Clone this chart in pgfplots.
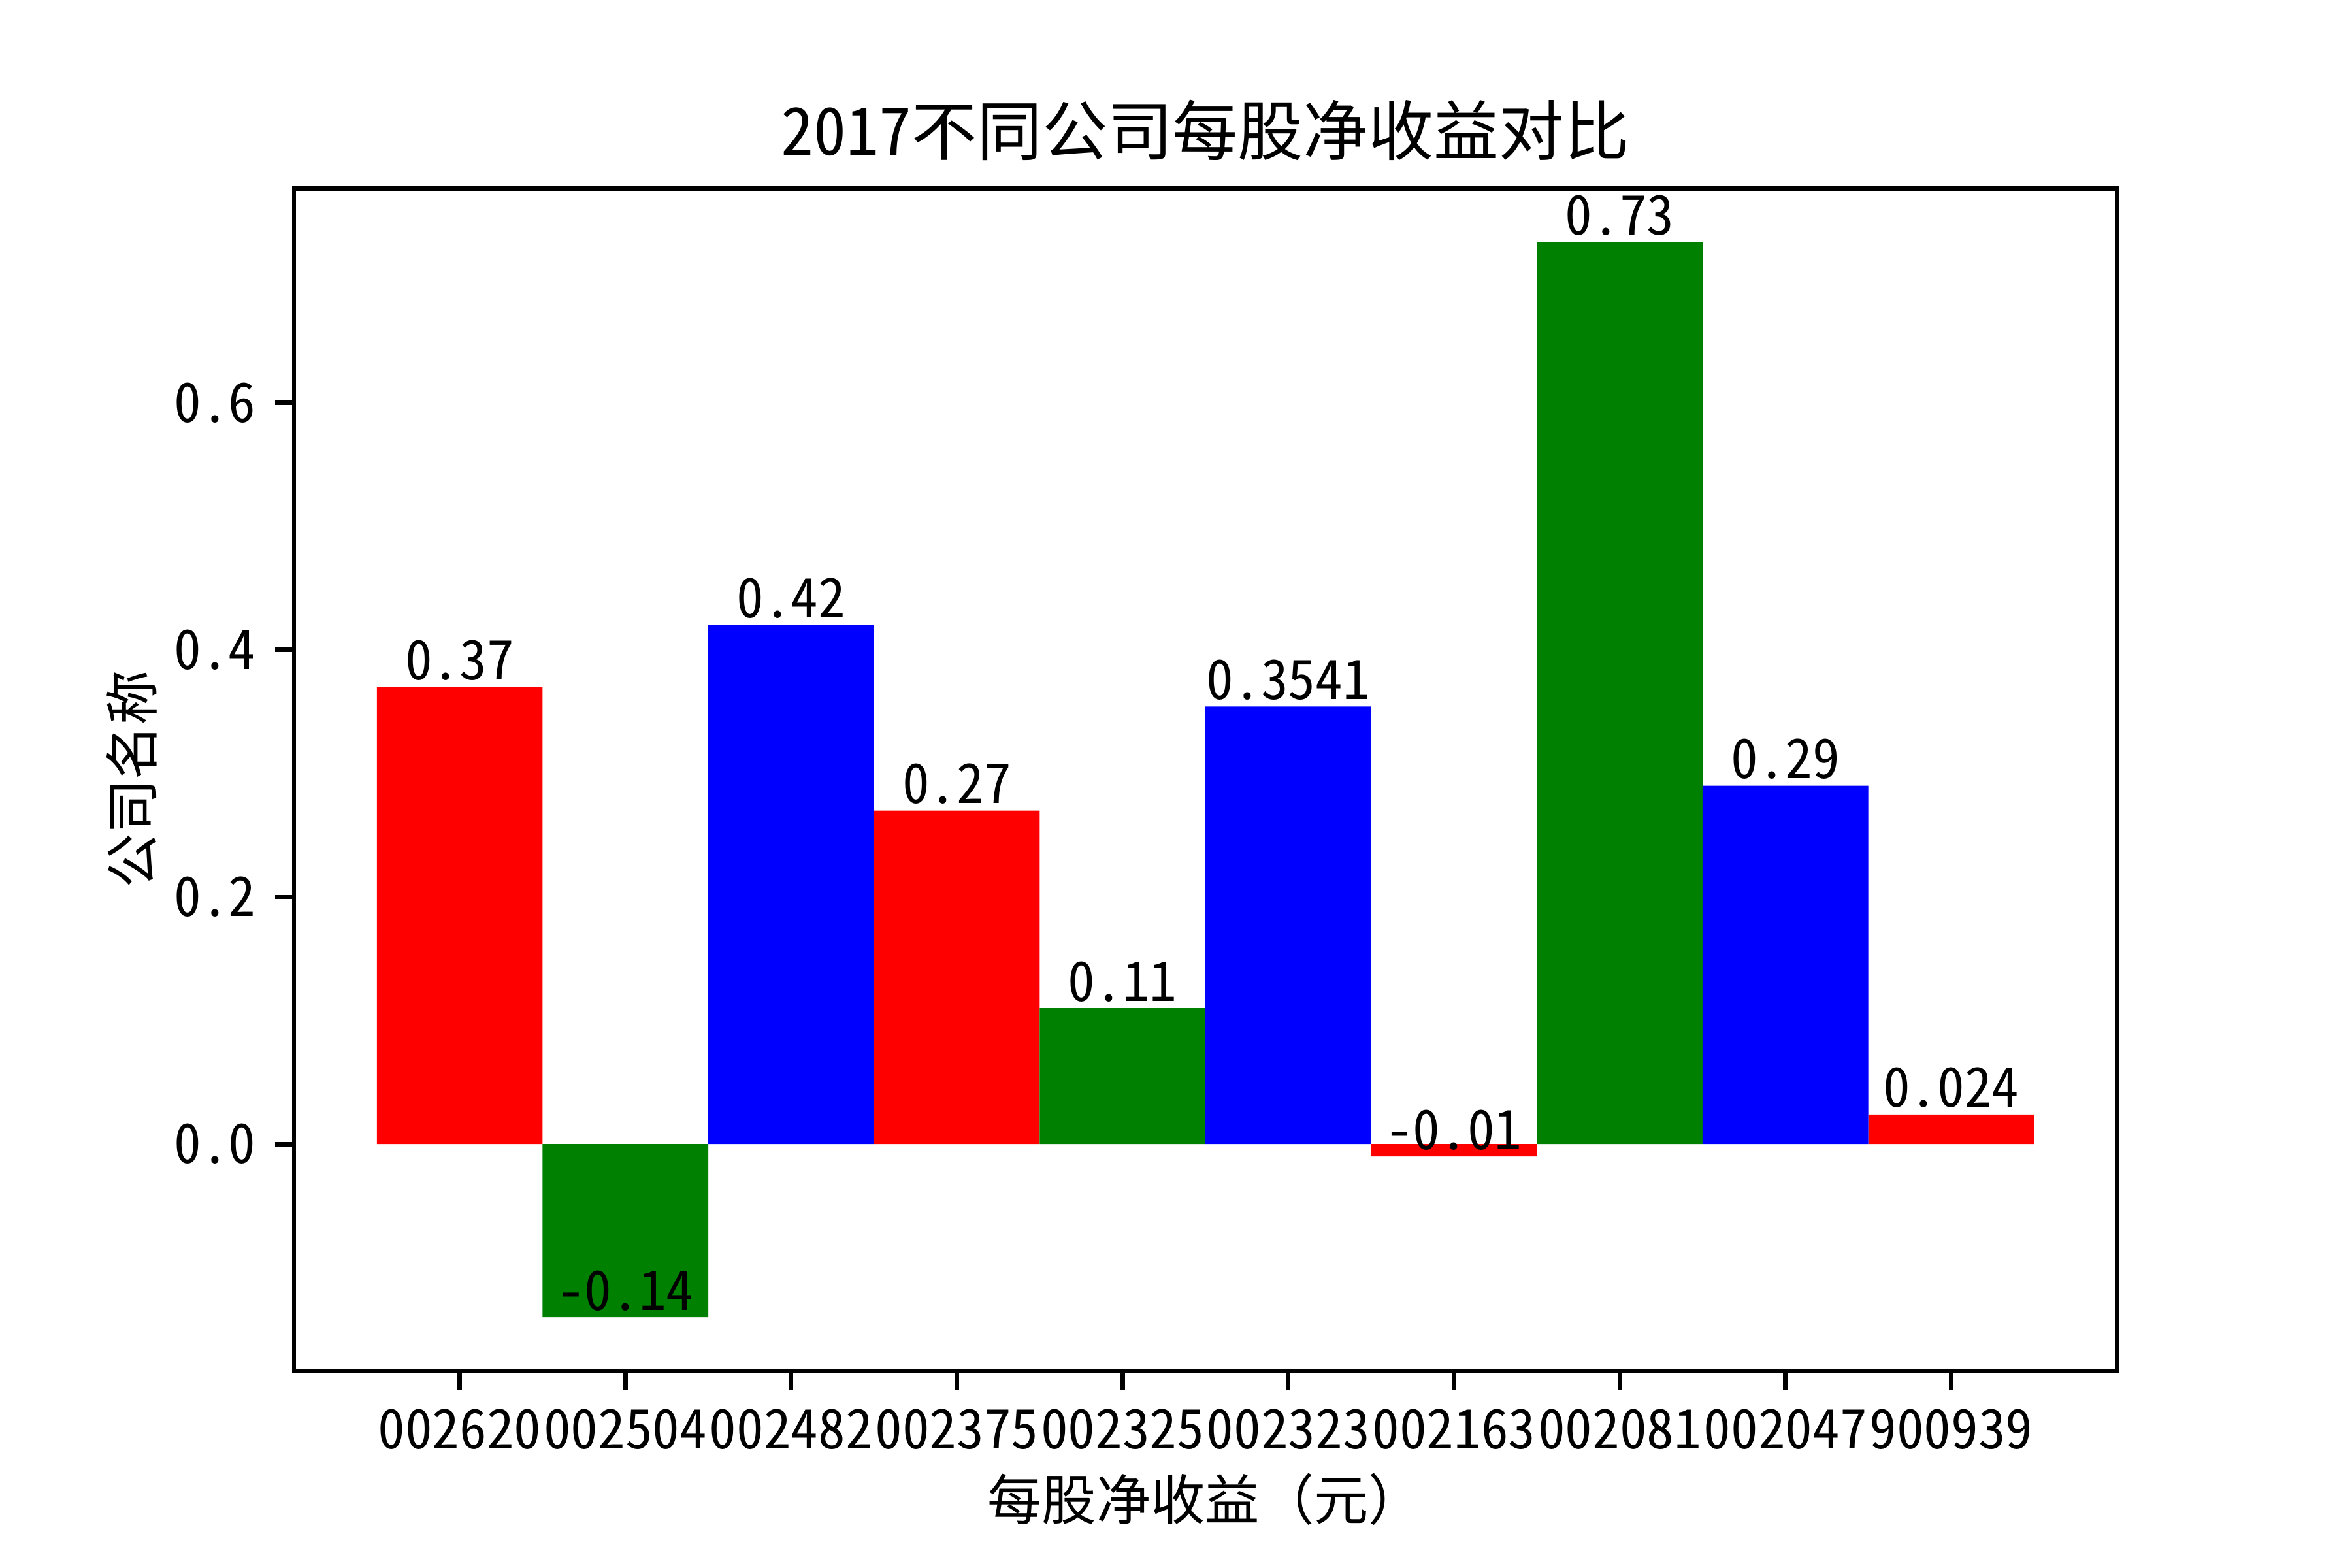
\documentclass[border=0pt]{standalone}
\usepackage{fontspec}
\setmainfont{Noto Sans CJK SC}[RawFeature=+hwid]
\newfontfamily\cjkfull{Noto Sans CJK SC}
\usepackage{pgfplots}
\pgfplotsset{compat=1.18}
\definecolor{mplgreen}{RGB}{0,128,0}
\begin{document}
\begin{tikzpicture}
\useasboundingbox (0,0) rectangle (432pt,288pt);
\begin{axis}[
  at={(54pt,36.2pt)}, anchor=south west,
  scale only axis, width=334.8pt, height=217.2pt,
  xmin=-1, xmax=10, ymin=-0.1835, ymax=0.7735,
  xtick={0,1,2,3,4,5,6,7,8,9},
  xticklabels={002620,002504,002482,002375,002325,002323,002163,002081,002047,900939},
  ytick={0,0.2,0.4,0.6},
  yticklabels={0.0,0.2,0.4,0.6},
  tick pos=left, tick align=outside, major tick length=3.5pt,
  tick style={black, line width=0.8pt},
  axis line style={line width=0.8pt},
  ticklabel style={font=\fontsize{10pt}{12pt}\selectfont},
  title={2017不同公司每股净收益对比},
  title style={font=\fontsize{12pt}{14pt}\selectfont, at={(axis description cs:0.5,1)}, anchor=center, yshift=4.7pt},
  xlabel={每股净收益（元）},
  ylabel={公司名称},
  every axis x label/.style={at={(axis description cs:0.5,0)}, anchor=center, yshift=-23.6pt, font=\cjkfull\fontsize{10pt}{12pt}\selectfont},
  every axis y label/.style={at={(axis description cs:0,0.5)}, anchor=center, rotate=90, yshift=29.8pt, font=\fontsize{10pt}{12pt}\selectfont},
]
\addplot[ybar, bar width=1, bar shift=0pt, fill=red, draw=none] coordinates {(0,0.37) (3,0.27) (6,-0.01) (9,0.024)};
\addplot[ybar, bar width=1, bar shift=0pt, fill=mplgreen, draw=none] coordinates {(1,-0.14) (4,0.11) (7,0.73)};
\addplot[ybar, bar width=1, bar shift=0pt, fill=blue, draw=none] coordinates {(2,0.42) (5,0.3541) (8,0.29)};
\addplot[only marks, mark=none, point meta=explicit symbolic,
  nodes near coords,
  nodes near coords style={anchor=south, inner sep=0pt, yshift=1pt, font=\fontsize{10pt}{12pt}\selectfont, text=black}]
  table[meta=lab] {
x y lab
0 0.37 0.37
1 -0.14 -0.14
2 0.42 0.42
3 0.27 0.27
4 0.11 0.11
5 0.3541 0.3541
6 -0.01 -0.01
7 0.73 0.73
8 0.29 0.29
9 0.024 0.024
};
\end{axis}
\end{tikzpicture}
\end{document}
